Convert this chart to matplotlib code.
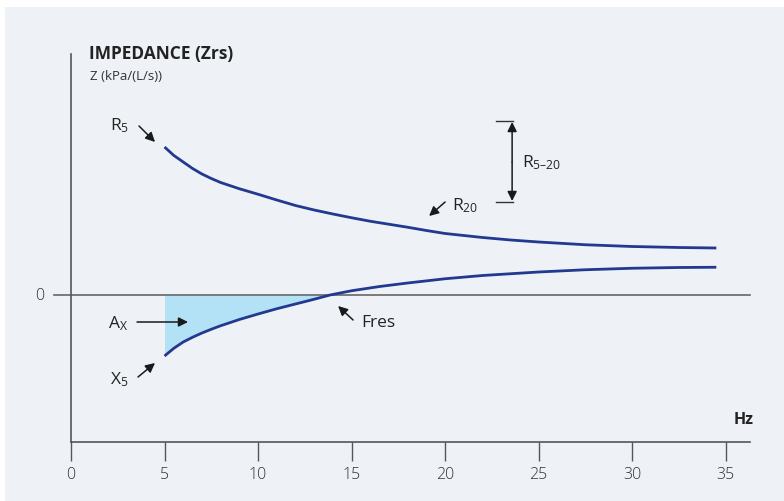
import matplotlib
matplotlib.use("Agg")
import matplotlib.pyplot as plt
import numpy as np
from matplotlib.patches import Rectangle

FONT = 'Open Sans'
plt.rcParams['font.family'] = [FONT, 'DejaVu Sans']
plt.rcParams['mathtext.fontset'] = 'custom'
plt.rcParams['mathtext.rm'] = FONT + ':medium'
plt.rcParams['mathtext.default'] = 'regular'

# Data (Hz, kPa/(L/s), scale)
freq_r = [5, 5.5, 6, 6.5, 7, 7.5, 8, 9, 10, 11, 12, 13, 14, 15, 16, 17, 18, 19, 20,
          22, 23.5, 25, 27.5, 30, 32.5, 34.5]
resistance = [0.592, 0.558, 0.532, 0.506, 0.484, 0.466, 0.450, 0.425, 0.403, 0.380,
              0.358, 0.340, 0.324, 0.309, 0.295, 0.283, 0.271, 0.258, 0.246,
              0.230, 0.220, 0.212, 0.201, 0.194, 0.190, 0.188]
freq_x = [5, 5.5, 6, 6.5, 7, 7.5, 8, 9, 10, 11, 12, 13, 13.85, 15, 16.5, 18, 20,
          22, 25, 27.5, 30, 32.5, 34.5]
reactance = [-0.244, -0.213, -0.188, -0.169, -0.152, -0.137, -0.123, -0.098, -0.076,
             -0.055, -0.036, -0.017, 0.0, 0.017, 0.034, 0.048, 0.065, 0.078, 0.092,
             0.101, 0.107, 0.110, 0.111]
xticks = [0, 5, 10, 15, 20, 25, 30, 35]

W, H = 784, 502
fig = plt.figure(figsize=(W / 100, H / 100), dpi=100)
fig.patch.set_facecolor('white')
fig.patches.append(Rectangle((5 / W, 0), 1, 1 - 8 / H, transform=fig.transFigure,
                             facecolor='#eef2f7', edgecolor='none', zorder=-10))

left, right = 71 / W, 750 / W
bottom, top = (H - 442.7) / H, (H - 55) / H
ax = fig.add_axes([left, bottom, right - left, top - bottom])
ax.set_facecolor('none')

ppu = 250.0
ax.set_xlim(0, 36.3)
ax.set_ylim((296 - 442.7) / ppu, (296 - 55) / ppu)

axis_col = '#555555'
for s in ['top', 'right']:
    ax.spines[s].set_visible(False)
for s in ['left', 'bottom']:
    ax.spines[s].set_color(axis_col)
    ax.spines[s].set_linewidth(1.2)
ax.set_yticks([])
ax.set_xticks(xticks)
ax.tick_params(axis='x', direction='out', length=13.5, width=1.0, color=axis_col,
               labelsize=11.5, labelcolor='#333333', pad=4)
for t in ax.get_xticklabels():
    t.set_fontweight('light')

# zero line
ax.plot([-0.9, 36.3], [0, 0], color='#666666', lw=1.2, clip_on=False, zorder=2)
ax.text(-1.7, 0, '0', ha='center', va='center', fontsize=11.5, color='#333333',
        fontweight='light')

line_col = '#22398f'
fx = np.array(freq_x)
xv = np.array(reactance)
ax.fill_between(fx, xv, 0, where=xv <= 0, interpolate=True, color='#b3e1f6', lw=0, zorder=1)
ax.plot(freq_r, resistance, color=line_col, lw=2.0, zorder=3, solid_capstyle='butt')
ax.plot(freq_x, reactance, color=line_col, lw=2.0, zorder=3, solid_capstyle='butt')

fig.text(89 / W, 1 - 54 / H, 'IMPEDANCE (Zrs)', fontsize=12.5, fontweight='bold',
         color='#222222', va='center', ha='left')
fig.text(90 / W, 1 - 77 / H, 'Z (kPa/(L/s))', fontsize=9.5, color='#333333',
         va='center', ha='left')
fig.text(734 / W, 1 - 420 / H, 'Hz', fontsize=11.5, fontweight='bold',
         color='#222222', va='center', ha='left')

def data_from_px(xp, yp):
    return ((xp - 71) / 18.7, (296 - yp) / ppu)

def label(xp, yp, s, size=12.5):
    x, y = data_from_px(xp, yp)
    ax.text(x, y, s, fontsize=size, color='#222222', ha='left', va='center',
            fontweight='medium', clip_on=False)

def arrow(x0p, y0p, x1p, y1p, style='-|>', ms=14):
    ax.annotate('', xy=data_from_px(x1p, y1p), xytext=data_from_px(x0p, y0p),
                arrowprops=dict(arrowstyle=style, color='#1a1a1a', lw=1.1,
                                mutation_scale=ms, shrinkA=0, shrinkB=0),
                annotation_clip=False)

label(110, 126, 'R$_{5}$')
arrow(139, 127, 155, 143)
label(452, 206, 'R$_{20}$')
arrow(445, 203, 429, 217)
label(522, 163, 'R$_{5\u201320}$')
for yb in (122, 203):
    x0, y = data_from_px(496, yb)
    x1, _ = data_from_px(513, yb)
    ax.plot([x0, x1], [y, y], color='#333333', lw=1.0, clip_on=False)
arrow(512, 163, 512, 123)
arrow(512, 163, 512, 202)
label(108, 324, 'A$_{X}$')
arrow(137, 323, 188, 323)
label(110, 380, 'X$_{5}$')
arrow(138, 378, 155, 364)
label(361, 323, 'Fres')
arrow(353, 321, 338, 307)

fig.savefig('out.png', dpi=100, facecolor=fig.get_facecolor())
